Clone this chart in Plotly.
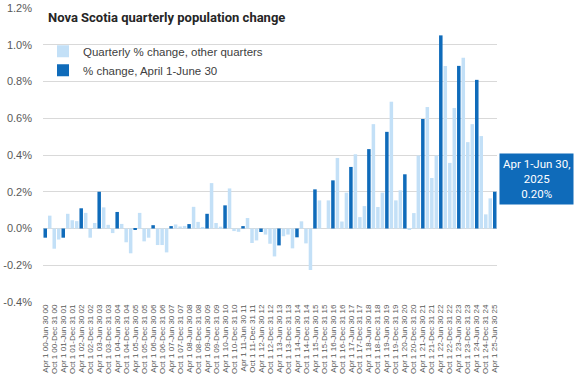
import plotly.graph_objects as go

# Quarterly % change, Nova Scotia, Apr 1-Jun 30 2000 ... Apr 1-Jun 30 2025 (101 quarters)
pct_change = [
    -0.05, 0.07, -0.11, -0.06,
    -0.05, 0.08, 0.045, 0.04,
    0.11, 0.085, -0.05, 0.03,
    0.20, 0.115, 0.02, -0.025,
    0.09, 0.025, -0.075, -0.135,
    -0.008, 0.085, -0.07, -0.05,
    0.018, -0.09, -0.09, -0.13,
    0.013, 0.022, 0.011, 0.014,
    0.024, 0.118, 0.036, 0.004,
    0.08, 0.247, 0.03, 0.01,
    0.126, 0.218, -0.014, -0.018,
    0.013, 0.057, -0.079, -0.065,
    -0.019, -0.033, -0.083, -0.152,
    -0.092, -0.042, -0.033, -0.108,
    -0.048, 0.039, -0.081, -0.226,
    0.213, 0.153, 0.0, 0.153,
    0.262, 0.384, 0.038, 0.195,
    0.335, 0.404, 0.062, 0.122,
    0.432, 0.568, 0.117, 0.195,
    0.526, 0.69, 0.153, 0.208,
    0.295, -0.007, 0.084, 0.397,
    0.596, 0.661, 0.275, 0.397,
    1.051, 0.885, 0.357, 0.656,
    0.885, 0.929, 0.47, 0.568,
    0.809, 0.503, 0.077, 0.164,
    0.20,
]

quarter_names = ["Apr 1 {y}-Jun 30 {y}", "Jul 1 {y}-Sep 30 {y}",
                 "Oct 1 {y}-Dec 31 {y}", "Jan 1 {y}-Mar 31 {y}"]
quarters = []
for i in range(len(pct_change)):
    q = i % 4
    yr = 2000 + i // 4 + (1 if q == 3 else 0)
    quarters.append(quarter_names[q].format(y=f"{yr % 100:02d}"))

y_ticks = [-0.4, -0.2, 0.0, 0.2, 0.4, 0.6, 0.8, 1.0, 1.2]
y_tick_text = [f"{v:.1f}%" for v in y_ticks]

x_idx = list(range(len(quarters)))
is_q2 = [q.startswith("Apr") for q in quarters]
other_vals = [v if not f else None for v, f in zip(pct_change, is_q2)]
q2_vals = [v if f else None for v, f in zip(pct_change, is_q2)]
tick_idx = [i for i, q in enumerate(quarters) if q.startswith("Apr") or q.startswith("Oct")]
tick_lbl = [quarters[i] for i in tick_idx]

LIGHT = "#C3E0F7"
DARK = "#0F6BBA"

fig = go.Figure()
fig.add_trace(go.Bar(x=x_idx, y=other_vals, name="Quarterly % change, other quarters",
                     marker=dict(color=LIGHT, line=dict(width=0))))
fig.add_trace(go.Bar(x=x_idx, y=q2_vals, name="% change, April 1-June 30",
                     marker=dict(color=DARK, line=dict(width=0))))

last_label = f"Apr 1-Jun 30,<br>2025<br>{pct_change[-1]:.2f}%"

fig.update_layout(
    width=576, height=384,
    barmode="overlay", bargap=0.22,
    paper_bgcolor="white", plot_bgcolor="white",
    margin=dict(l=43, r=79, t=8, b=82, autoexpand=False),
    font=dict(family="Liberation Sans, Arial, sans-serif", color="#595959"),
    title=dict(text="<b>Nova Scotia quarterly population change</b>",
               xref="container", yref="container", x=48 / 576, y=1 - 17 / 384,
               xanchor="left", yanchor="middle", pad=dict(l=0, r=0, t=0, b=0),
               font=dict(family="Roboto, sans-serif", size=13, color="#262626")),
    legend=dict(x=0.0, y=0.902, xanchor="left", yanchor="top",
                bgcolor="rgba(0,0,0,0)", font=dict(size=11.5, color="#404040"),
                tracegroupgap=0, itemwidth=30),
    showlegend=True,
    xaxis=dict(range=[-0.5, len(quarters) - 0.5], tickmode="array", tickvals=tick_idx,
               ticktext=tick_lbl, tickangle=-90, tickfont=dict(size=8, color="#595959"),
               showgrid=False, zeroline=False, showline=False, ticks="", automargin=False),
    yaxis=dict(range=[-0.4, 1.2], tickmode="array", tickvals=y_ticks, ticktext=y_tick_text,
               tickfont=dict(size=11, color="#595959"), showgrid=True, gridcolor="#D9D9D9",
               gridwidth=1, zeroline=True, zerolinecolor="#D9D9D9", zerolinewidth=1,
               showline=False, ticks="", automargin=False, ticklabelstandoff=10),
    annotations=[dict(text=last_label, xref="paper", yref="paper",
                      x=1.088, y=0.418, xanchor="center", yanchor="middle",
                      showarrow=False, bgcolor=DARK, borderpad=3,
                      font=dict(size=11.5, color="white", family="Roboto, sans-serif"))],
)

fig.write_html("out.html", config={"displayModeBar": False},
               post_script="document.body.style.margin='0';document.body.style.overflow='hidden';")
